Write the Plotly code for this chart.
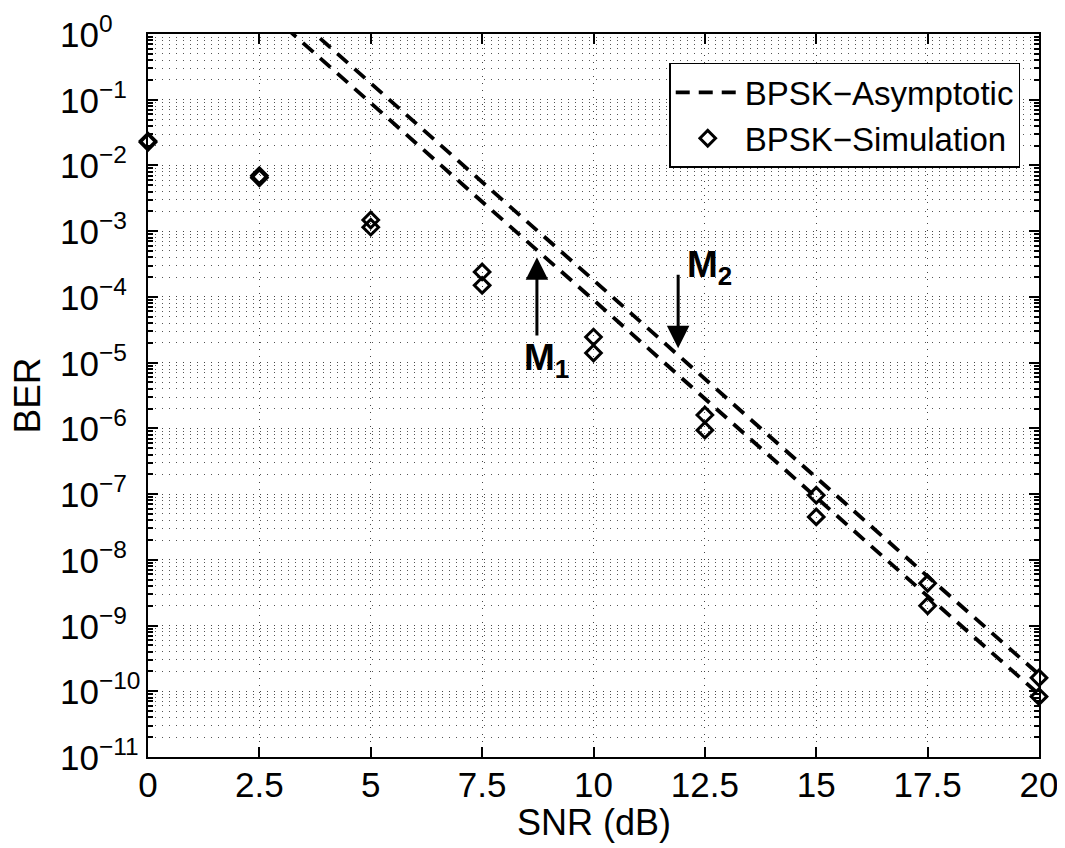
import plotly.graph_objects as go
import numpy as np

snr = [0, 2.5, 5, 7.5, 10, 12.5, 15, 17.5, 20]

# Asymptotic curves (values above 1 are clipped by the axis)
asym_low = [90, 2.8, 0.09, 2.8e-3, 9e-5, 2.8e-6, 9e-8, 2.8e-9, 9e-11]
asym_high = [180, 5.6, 0.18, 5.6e-3, 1.8e-4, 5.6e-6, 1.8e-7, 5.6e-9, 1.8e-10]

# Simulation points (two sets)
sim_a = [2.35e-2, 7.0e-3, 1.48e-3, 2.4e-4, 2.45e-5, 1.6e-6, 9.6e-8, 4.4e-9, 1.6e-10]
sim_b = [2.25e-2, 6.5e-3, 1.15e-3, 1.5e-4, 1.4e-5, 9.4e-7, 4.5e-8, 2.0e-9, 8.3e-11]

x_ticks = [0, 2.5, 5, 7.5, 10, 12.5, 15, 17.5, 20]
x_ticktext = ["0", "2.5", "5", "7.5", "10", "12.5", "15", "17.5", "20"]
y_exps = list(range(-11, 1))
y_ticktext = ["10<sup>" + (str(e).replace("-", "\u2212")) + "</sup>" for e in y_exps]
y_tickvals = [10.0 ** e for e in y_exps]
minor_vals = [m * 10.0 ** e for e in range(-11, 0) for m in range(2, 10)]

FONT = "Liberation Sans, Arial, Helvetica, sans-serif"
dash = "14px,9px"
GRID = "1px,6px"

fig = go.Figure()
fig.add_trace(go.Scatter(x=snr, y=asym_low, mode="lines", name="BPSK\u2212Asymptotic",
                         line=dict(color="black", width=3.8, dash=dash), legendgroup="a"))
fig.add_trace(go.Scatter(x=snr, y=asym_high, mode="lines", name="BPSK\u2212Asymptotic",
                         line=dict(color="black", width=3.8, dash=dash), legendgroup="a",
                         showlegend=False))
fig.add_trace(go.Scatter(x=snr, y=sim_a, mode="markers", name="BPSK\u2212Simulation",
                         marker=dict(symbol="diamond-open", size=12, color="black",
                                     line=dict(width=3, color="black")),
                         legendgroup="s", cliponaxis=False))
fig.add_trace(go.Scatter(x=snr, y=sim_b, mode="markers", name="BPSK\u2212Simulation",
                         marker=dict(symbol="diamond-open", size=12, color="black",
                                     line=dict(width=3, color="black")),
                         legendgroup="s", showlegend=False, cliponaxis=False))

# Arrows
fig.add_annotation(x=8.73, y=np.log10(4.0e-4), ax=8.73, ay=np.log10(2.45e-5),
                   xref="x", yref="y", axref="x", ayref="y", text="",
                   showarrow=True, arrowhead=2, arrowsize=1.5, arrowwidth=3, arrowcolor="black")
fig.add_annotation(x=11.9, y=np.log10(1.66e-5), ax=11.9, ay=np.log10(2.3e-4),
                   xref="x", yref="y", axref="x", ayref="y", text="",
                   showarrow=True, arrowhead=2, arrowsize=1.5, arrowwidth=3, arrowcolor="black")
fig.add_annotation(x=8.95, y=np.log10(1.3e-5), xref="x", yref="y", yshift=20,
                   text="<b>M<sub>1</sub></b>", showarrow=False,
                   font=dict(family=FONT, size=37, color="black"), xanchor="center", yanchor="top")
fig.add_annotation(x=12.05, y=np.log10(4.0e-4), xref="x", yref="y", yshift=15,
                   text="<b>M<sub>2</sub></b>", showarrow=False,
                   font=dict(family=FONT, size=37, color="black"), xanchor="left", yanchor="top")

# Y tick labels (left aligned like the reference)
for v, t in zip(y_tickvals, y_ticktext):
    fig.add_annotation(x=-0.101, y=np.log10(v), xref="paper", yref="y", text=t,
                       showarrow=False, xanchor="left", yanchor="middle", yshift=2,
                       font=dict(family=FONT, size=35, color="black"))

# Axis titles
fig.add_annotation(x=0.5, y=-0.09, xref="paper", yref="paper", text="SNR (dB)",
                   showarrow=False, xanchor="center", yanchor="middle",
                   font=dict(family=FONT, size=36, color="black"))
fig.add_annotation(x=-0.1358, y=0.5, xref="paper", yref="paper", text="BER",
                   showarrow=False, xanchor="center", yanchor="middle", textangle=-90,
                   font=dict(family=FONT, size=37, color="black"))

# The page adds an 8px body margin, so the figure is drawn 8px smaller and shifted.
fig.update_layout(
    width=1057, height=840,
    margin=dict(l=140, r=26, t=26, b=91),
    paper_bgcolor="white", plot_bgcolor="white",
    font=dict(family=FONT, size=35, color="black"),
    showlegend=True,
    legend=dict(x=0.585, y=0.96, xanchor="left", yanchor="top",
                bgcolor="white", bordercolor="black", borderwidth=1.5,
                font=dict(family=FONT, size=33, color="black"),
                tracegroupgap=0, itemwidth=64),
    xaxis=dict(range=[0, 20], tickmode="array", tickvals=x_ticks, ticktext=x_ticktext,
               showgrid=True, gridcolor="#444", griddash=GRID, gridwidth=1,
               ticks="inside", ticklen=10, tickwidth=1.5, tickcolor="black",
               showline=True, linecolor="black", linewidth=1.5, mirror="ticks",
               zeroline=False, automargin=False, ticklabelstandoff=-4,
               tickfont=dict(family=FONT, size=35)),
    yaxis=dict(type="log", range=[-11, 0], tickmode="array", tickvals=y_tickvals,
               showticklabels=False,
               showgrid=True, gridcolor="#444", griddash=GRID, gridwidth=1,
               ticks="inside", ticklen=10, tickwidth=1.5, tickcolor="black",
               showline=True, linecolor="black", linewidth=1.5, mirror="ticks",
               zeroline=False, automargin=False,
               minor=dict(tickmode="array", tickvals=minor_vals, ticks="inside", ticklen=5,
                          tickcolor="black", showgrid=True, gridcolor="#555",
                          griddash=GRID, gridwidth=1)),
)

fig.write_html("out.html")
